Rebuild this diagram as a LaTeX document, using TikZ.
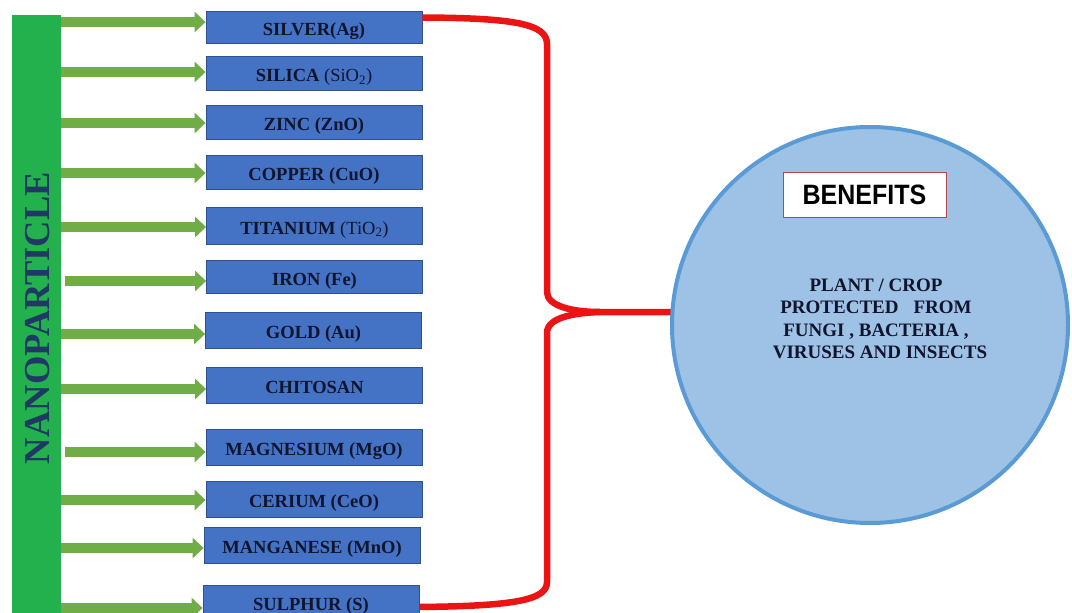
\documentclass[tikz,border=0pt]{standalone}
\usepackage{fontspec}
\setmainfont{Liberation Serif}
\newfontfamily\arialf{Liberation Sans}
\usetikzlibrary{arrows.meta}
\definecolor{bargreen}{RGB}{34,177,76}
\definecolor{arrgreen}{RGB}{112,173,71}
\definecolor{boxblue}{RGB}{68,114,196}
\definecolor{boxedge}{RGB}{47,82,143}
\definecolor{navy}{RGB}{31,56,100}
\definecolor{txtdark}{RGB}{16,20,45}
\definecolor{brred}{RGB}{235,20,20}
\definecolor{circfill}{RGB}{157,194,230}
\definecolor{circedge}{RGB}{91,155,213}
\definecolor{benedge}{RGB}{180,70,80}
\begin{document}
\begin{tikzpicture}[x=1pt,y=-1pt,
  elem/.style={draw=boxedge, fill=boxblue, line width=0.8pt, minimum width=216pt,
    inner sep=0pt, text height=17pt, text depth=0pt,
    font=\fontsize{18.5}{20}\selectfont\bfseries, text=txtdark},
  feed/.style={arrgreen, line width=10pt, -{Triangle[length=11pt,width=20pt]}},
  brace/.style={brred, line width=6.5pt, line join=round}
]
\path[use as bounding box, clip] (0,0) rectangle (1072,613);
\fill[white] (0,0) rectangle (1072,613);

% left bar
\node[fill=bargreen, minimum width=49pt, minimum height=610pt, inner sep=0pt, outer sep=0pt] (bar) at (36.5,320) {};
\node[rotate=90, font=\fontsize{36.5}{36}\selectfont\bfseries, text=navy, inner sep=0pt] (np) at (37.5,318) {NANOPARTICLE};

% element boxes
\node[elem, minimum height=32pt] (b1) at (314,27) {SILVER(Ag)};
\node[elem, minimum height=34pt] (b2) at (314,73) {SILICA {\mdseries(SiO\textsubscript{2})}};
\node[elem, minimum height=34pt] (b3) at (314,122) {ZINC (ZnO)};
\node[elem, minimum height=34pt] (b4) at (314,172) {COPPER (CuO)};
\node[elem, minimum height=37pt] (b5) at (314.5,225.5) {TITANIUM {\mdseries(TiO\textsubscript{2})}};
\node[elem, minimum height=33pt] (b6) at (314.5,276.5) {IRON (Fe)};
\node[elem, minimum height=36pt] (b7) at (313.5,330) {GOLD (Au)};
\node[elem, minimum height=36pt] (b8) at (314.5,385) {CHITOSAN};
\node[elem, minimum height=36pt] (b9) at (314,447) {MAGNESIUM (MgO)};
\node[elem, minimum height=36pt] (b10) at (314,499) {CERIUM (CeO)};
\node[elem, minimum height=36pt] (b11) at (312,545) {MANGANESE (MnO)};
\node[elem, minimum height=33pt] (b12) at (311,601.5) {SULPHUR (S)};

% arrows
\draw[feed] (bar.east |- 0,22) -- (b1.west |- 0,22);
\draw[feed] (bar.east |- 0,72) -- (b2.west |- 0,72);
\draw[feed] (bar.east |- 0,123) -- (b3.west |- 0,123);
\draw[feed] (bar.east |- 0,173) -- (b4.west |- 0,173);
\draw[feed] (bar.east |- 0,227) -- (b5.west |- 0,227);
\draw[feed] ([xshift=4pt]bar.east |- 0,281) -- (b6.west |- 0,281);
\draw[feed] (bar.east |- 0,334) -- (b7.west |- 0,334);
\draw[feed] (bar.east |- 0,389) -- (b8.west |- 0,389);
\draw[feed] ([xshift=4pt]bar.east |- 0,452) -- (b9.west |- 0,452);
\draw[feed] (bar.east |- 0,500) -- (b10.west |- 0,500);
\draw[feed] (bar.east |- 0,548) -- (b11.west |- 0,548);
\draw[feed] (bar.east |- 0,608) -- (b12.west |- 0,608);

\coordinate (cc) at (870,325);
\coordinate (cw) at (672,312);
\coordinate (cusp) at (600,312);

% red bracket
\draw[brace] (b1.east |- 0,17.5) .. controls (515,18) and (547,24) .. (547,44)
  -- (547,292) .. controls (547,306) and (572,312) .. (cusp) -- (cw);
\draw[brace] (cusp) .. controls (572,313) and (547,318) .. (547,333)
  -- (547,582) .. controls (547,600) and (515,606) .. (b12.east |- 0,607);

\node[circle, draw=circedge, fill=circfill, line width=4pt, minimum size=396pt,
  inner sep=0pt, outer sep=0pt] (circ) at (cc) {};

\node[draw=benedge, fill=white, line width=0.8pt, minimum width=163pt, minimum height=45pt,
  inner sep=0pt, font=\arialf\fontsize{25}{25}\selectfont\bfseries] (ben) at (864.5,194.5) {\scalebox{1}[1.12]{BENEFITS}};

\node[align=center, font=\fontsize{19}{22.3}\selectfont\bfseries, text=txtdark, inner sep=0pt]
  (body) at (876,319) {PLANT / CROP\\PROTECTED\hspace{15pt}FROM\\FUNGI , BACTERIA ,\\\hspace*{8pt}VIRUSES AND INSECTS};
\end{tikzpicture}
\end{document}
